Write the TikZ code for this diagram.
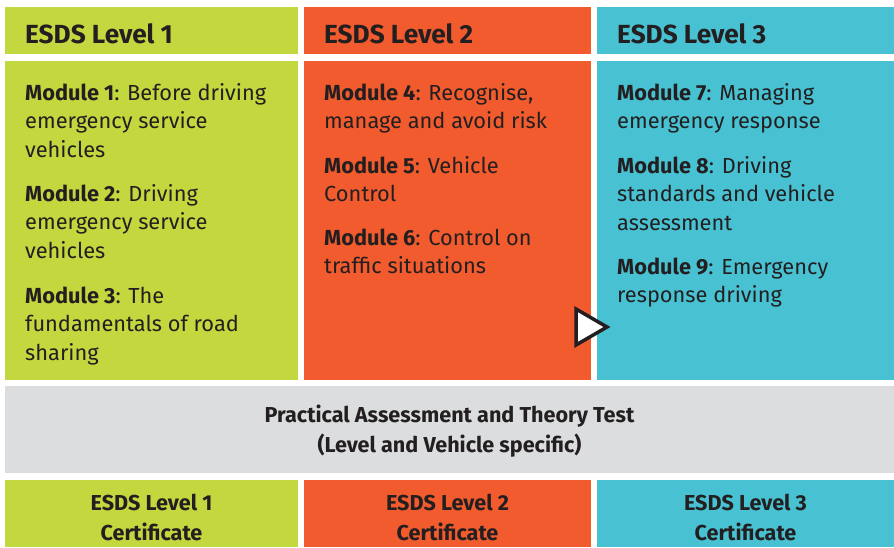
\documentclass[tikz,border=0pt]{standalone}
\usepackage{fontspec}
\setmainfont{Fira Sans}
\definecolor{lgreen}{RGB}{194,216,62}
\definecolor{lorange}{RGB}{241,91,46}
\definecolor{lteal}{RGB}{72,194,210}
\definecolor{lgray}{RGB}{220,221,223}
\definecolor{ink}{RGB}{35,31,32}
\begin{document}
\begin{tikzpicture}[x=1pt,y=-1pt,
  panel/.style={anchor=north west,inner sep=0pt,outer sep=0pt,draw=none},
  headtxt/.style={anchor=base west,inner sep=0pt,text=ink,font={\fontsize{26.2}{30}\selectfont\bfseries}},
  modtxt/.style={anchor=base west,inner sep=0pt,text=ink,align=left,font={\fontsize{21.8}{28.7}\selectfont}},
  certtxt/.style={inner sep=0pt,text=ink,align=center,font={\fontsize{21.6}{29.5}\selectfont\bfseries}}]
\useasboundingbox (0,0) rectangle (894,547);
\fill[white] (0,0) rectangle (894,547);
% headers
\node[panel,fill=lgreen,minimum width=293pt,minimum height=47pt] (h1) at (5,7) {};
\node[panel,fill=lorange,minimum width=287pt,minimum height=47pt] (h2) at (304,7) {};
\node[panel,fill=lteal,minimum width=297pt,minimum height=47pt] (h3) at (597,7) {};
% bodies
\node[panel,fill=lgreen,minimum width=293pt,minimum height=319pt] (b1) at (5,61) {};
\node[panel,fill=lorange,minimum width=287pt,minimum height=319pt] (b2) at (304,61) {};
\node[panel,fill=lteal,minimum width=297pt,minimum height=319pt] (b3) at (597,61) {};
% gray band
\node[panel,fill=lgray,minimum width=889pt,minimum height=87pt] (g) at (5,386) {};
% certificates
\node[panel,fill=lgreen,minimum width=293pt,minimum height=67pt] (c1) at (5,480) {};
\node[panel,fill=lorange,minimum width=287pt,minimum height=67pt] (c2) at (304,480) {};
\node[panel,fill=lteal,minimum width=297pt,minimum height=67pt] (c3) at (597,480) {};
% header text
\node[headtxt] (t1) at (25,43) {ESDS Level 1};
\node[headtxt] (t2) at (324,43) {ESDS Level 2};
\node[headtxt] (t3) at (617,43) {ESDS Level 3};
% modules (anchor = baseline of last line)
\node[modtxt] (m1) at (25,157.4) {\textbf{Module 1}: Before driving\\emergency service\\vehicles};
\node[modtxt] (m2) at (25,258.4) {\textbf{Module 2}: Driving\\emergency service\\vehicles};
\node[modtxt] (m3) at (25,360.4) {\textbf{Module 3}: The\\fundamentals of road\\sharing};
\node[modtxt] (m4) at (324,128.7) {\textbf{Module 4}: Recognise,\\manage and avoid risk};
\node[modtxt] (m5) at (324,201.7) {\textbf{Module 5}: Vehicle\\Control};
\node[modtxt] (m6) at (324,273.7) {\textbf{Module 6}: Control on\\traffic situations};
\node[modtxt] (m7) at (617,128.7) {\textbf{Module 7}: Managing\\emergency response};
\node[modtxt] (m8) at (617,230.4) {\textbf{Module 8}: Driving\\standards and vehicle\\assessment};
\node[modtxt] (m9) at (617,302.7) {\textbf{Module 9}: Emergency\\response driving};
% triangle
\draw[draw=ink,fill=white,line width=3.5pt,line join=miter] (576,309) -- (607,327) -- (576,345) -- cycle;
% gray text
\node[certtxt] (gt) at ([yshift=-1.5pt]g.center) {Practical Assessment and Theory Test\\(Level and Vehicle specific)};
% certificate text
\node[certtxt] (ct1) at ([yshift=-4pt]c1.center) {ESDS Level 1\\Certificate};
\node[certtxt] (ct2) at ([yshift=-4pt]c2.center) {ESDS Level 2\\Certificate};
\node[certtxt] (ct3) at ([yshift=-4pt]c3.center) {ESDS Level 3\\Certificate};
\end{tikzpicture}
\end{document}
